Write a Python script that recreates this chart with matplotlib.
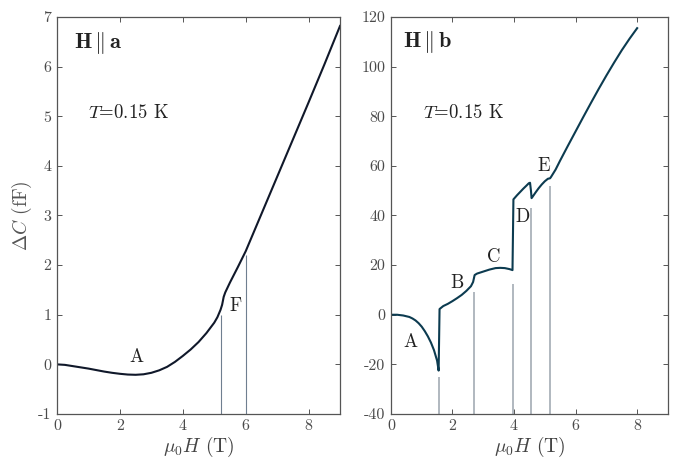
import numpy as np
import matplotlib
matplotlib.use("Agg")
import matplotlib.pyplot as plt

plt.rcParams["font.family"] = "serif"
plt.rcParams["font.serif"] = ["cmr10", "DejaVu Serif"]
plt.rcParams["mathtext.fontset"] = "cm"
plt.rcParams["axes.unicode_minus"] = False
plt.rcParams["axes.formatter.use_mathtext"] = True

# H || a panel
field_a = [0, 0.25, 0.5, 0.75, 1.0, 1.25, 1.5, 1.75, 2.0, 2.25, 2.5, 2.75, 3.0,
           3.25, 3.5, 3.75, 4.0, 4.25, 4.5, 4.75, 5.0, 5.1, 5.2, 5.25, 5.3,
           5.35, 5.5, 5.75, 6.0, 6.5, 7.0, 7.5, 8.0, 8.5, 9.0]
dc_a = [0, -0.01, -0.035, -0.06, -0.085, -0.115, -0.145, -0.17, -0.19, -0.205,
        -0.21, -0.2, -0.17, -0.12, -0.05, 0.05, 0.17, 0.3, 0.45, 0.63, 0.84,
        0.95, 1.1, 1.2, 1.36, 1.45, 1.65, 1.96, 2.28, 3.03, 3.78, 4.53, 5.28,
        6.04, 6.82]
marks_a_x = [5.2, 6.0]
marks_a_top = [1.0, 2.2]
labels_a = ["A", "F"]
labels_a_pos = [(2.54, 0.15), (5.67, 1.17)]

# H || b panel
field_b = [0, 0.2, 0.4, 0.6, 0.7, 0.8, 0.9, 1.0, 1.1, 1.2, 1.3, 1.4, 1.5, 1.55,
           1.58, 1.7, 1.85, 2.0, 2.15, 2.3, 2.45, 2.6, 2.67, 2.72, 2.8, 3.0,
           3.2, 3.4, 3.55, 3.7, 3.85, 3.95, 3.98, 4.1, 4.2, 4.3, 4.4, 4.48,
           4.52, 4.55, 4.57, 4.6, 4.7, 4.8, 4.9, 5.0, 5.1, 5.17, 5.2, 5.35,
           5.5, 5.75, 6.0, 6.25, 6.5, 6.75, 7.0, 7.25, 7.5, 7.75, 8.0]
dc_b = [0, 0, -0.3, -0.9, -1.5, -2.3, -3.4, -4.8, -6.6, -8.7, -11.2, -14.3,
        -18.5, -22.5, 2.3, 3.5, 4.4, 5.5, 6.7, 8.0, 9.6, 11.5, 13.2, 16.0,
        16.6, 17.4, 18.2, 18.8, 18.9, 18.8, 18.4, 18.0, 46.5, 48.2, 49.5,
        50.8, 52.0, 53.0, 53.2, 50.0, 47.0, 47.5, 49.3, 51.0, 52.5, 53.8, 54.8,
        55.0, 55.5, 58.5, 62.2, 68.1, 73.9, 79.7, 85.4, 91.0, 96.4, 101.6,
        106.6, 111.2, 115.5]
marks_b_x = [1.57, 2.7, 3.97, 4.55, 5.17]
marks_b_top = [-25, 9, 12.5, 43, 52]
labels_b = ["A", "B", "C", "D", "E"]
labels_b_pos = [(0.62, -10.9), (2.16, 12.9), (3.33, 23.3), (4.28, 39.5), (4.97, 60.0)]

xticks = [0, 2, 4, 6, 8]
yticks_a = [-1, 0, 1, 2, 3, 4, 5, 6, 7]
yticks_b = [-40, -20, 0, 20, 40, 60, 80, 100, 120]

spine_col = "#555555"
tick_col = "#4a4a4a"
text_col = "#222222"

fig = plt.figure(figsize=(6.74, 4.62), dpi=100)
ax1 = fig.add_axes([0.0846, 0.1039, 0.4199, 0.8593])
ax2 = fig.add_axes([0.580, 0.1039, 0.411, 0.8593])


def style(ax, yticks, ylim):
    ax.set_xlim(0, 9)
    ax.set_ylim(*ylim)
    ax.set_xticks(xticks)
    ax.set_xticklabels([str(t) for t in xticks])
    ax.set_yticks(yticks)
    ax.set_yticklabels([str(t) for t in yticks])
    ax.tick_params(direction="in", top=True, right=True, length=3.5, width=0.7,
                   labelsize=11.5, colors=spine_col, labelcolor=tick_col, pad=4)
    for s in ax.spines.values():
        s.set_color(spine_col)
        s.set_linewidth(0.9)
    ax.set_xlabel(r"$\mu_0 H$ (T)", fontsize=14, color="#444444", labelpad=1)


# left panel
ax1.vlines(marks_a_x, -1, marks_a_top, color="#6f7f90", lw=0.8)
ax1.plot(field_a, dc_a, color="#10182a", lw=1.5)
style(ax1, yticks_a, (-1, 7))
ax1.set_ylabel(r"$\Delta C$ (fF)", fontsize=14, color="#555555", labelpad=3)
ax1.text(0.54, 6.48, r"$\mathbf{H}\,\Vert\,\mathbf{a}$", fontsize=16,
         va="center", ha="left", color=text_col)
ax1.text(0.99, 5.07, r"$T$=0.15 K", fontsize=13.5, va="center", ha="left",
         color=text_col)
for lab, (lx, ly) in zip(labels_a, labels_a_pos):
    ax1.text(lx, ly, lab, fontsize=13.5, ha="center", va="center", color=text_col)

# right panel
ax2.vlines(marks_b_x, -40, marks_b_top, color="#aab2ba", lw=1.3)
ax2.plot(field_b, dc_b, color="#0c3b50", lw=1.5)
style(ax2, yticks_b, (-40, 120))
ax2.text(0.38, 110, r"$\mathbf{H}\,\Vert\,\mathbf{b}$", fontsize=16,
         va="center", ha="left", color=text_col)
ax2.text(1.03, 81.4, r"$T$=0.15 K", fontsize=13.5, va="center", ha="left",
         color=text_col)
for lab, (lx, ly) in zip(labels_b, labels_b_pos):
    ax2.text(lx, ly, lab, fontsize=13.5, ha="center", va="center", color=text_col)

fig.savefig("out.png", dpi=100)
